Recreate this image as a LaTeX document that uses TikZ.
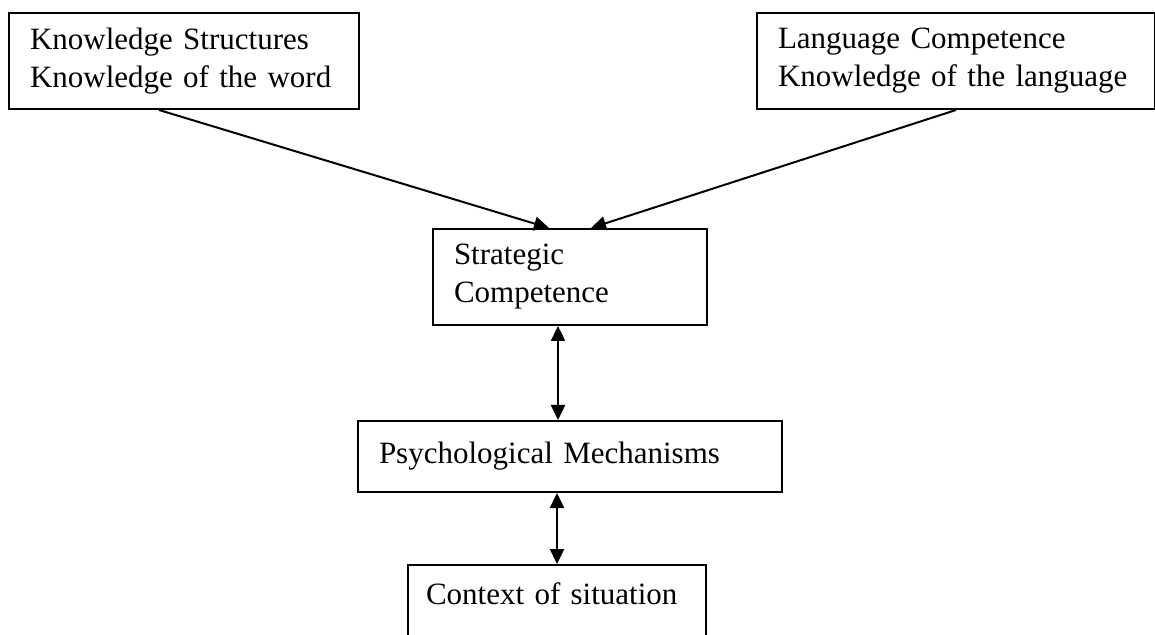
\documentclass[tikz,border=0pt]{standalone}
\usepackage{fontspec}
\setmainfont{Liberation Serif}
\usetikzlibrary{arrows.meta,positioning}

\tikzset{
	box/.style={draw,line width=1pt,anchor=north west,align=left,inner xsep=10.5pt,inner ysep=0pt,font=\fontsize{15.5}{19}\selectfont},
	arr/.style={line width=1pt,-{Triangle[length=7.5pt,width=7pt]}},
	dbl/.style={line width=1.2pt,{Triangle[length=7.5pt,width=7pt]}-{Triangle[length=7.5pt,width=7pt]}}
}

\begin{document}
\begin{tikzpicture}[x=0.5pt,y=-0.5pt]
			\useasboundingbox (0,0) rectangle (1155,635);
			\clip (0,0) rectangle (1155,635);
			\node[box,text width=154pt,minimum height=48pt] (ks) at (8,12) {Knowledge Structures\\Knowledge of the word};
			\node[box,text width=178pt,minimum height=48pt] (lc) at (756,12) {Language Competence\\Knowledge of the language};
			\node[box,text width=116pt,minimum height=48pt] (sc) at (432,228) {Strategic\\Competence};
			\node[box,text width=191pt,minimum height=35.5pt] (pm) at (357,420) {Psychological Mechanisms};
			\node[box,inner xsep=9pt,inner ysep=9pt,text width=131pt,text depth=20pt] (cs) at (407,564) {Context of situation};
			\draw[arr] ([xshift=-12.5pt]ks.south) -- ([xshift=-10.5pt]sc.north);
			\draw[arr] (lc.south) -- ([xshift=10.5pt]sc.north);
			\draw[dbl] ([xshift=-6pt]sc.south) -- ([xshift=-6pt]pm.north);
			\draw[dbl] ([xshift=-6.5pt]pm.south) -- (cs.north);
		\end{tikzpicture}
\end{document}
